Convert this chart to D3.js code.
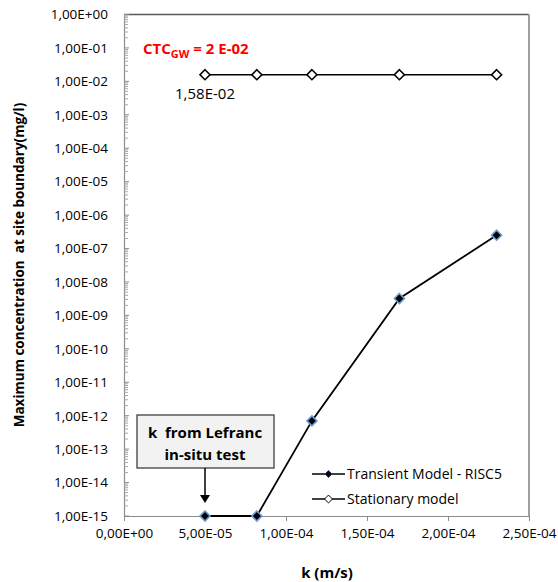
<!DOCTYPE html>
<html lang="en">
<head>
    <meta charset="UTF-8">
    <title>Maximum concentration vs k</title>
    <script src="https://d3js.org/d3.v7.min.js"></script>
    <style>
        body { margin: 0; background: #fff; }
        svg text { font-family: "Open Sans", "Noto Sans", sans-serif; fill: #000; }
    </style>
</head>
<body>
    <div id="chart"></div>

    <script>
        // Values
        const kValues = [5.0e-5, 8.2e-5, 1.16e-4, 1.7e-4, 2.3e-4];
        const transient = [1e-15, 1e-15, 7e-13, 3.2e-9, 2.5e-7];
        const stationary = [1.58e-2, 1.58e-2, 1.58e-2, 1.58e-2, 1.58e-2];
        const seriesNames = ["Transient Model - RISC5", "Stationary model"];
        const xTicks = [0, 5e-5, 1e-4, 1.5e-4, 2e-4, 2.5e-4];
        const yExponents = [0, -1, -2, -3, -4, -5, -6, -7, -8, -9, -10, -11, -12, -13, -14, -15];

        const W = 558, H = 582;
        const plotLeft = 124, plotRight = 529, plotTop = 14.5, plotBottom = 516;

        const svg = d3.select("#chart").append("svg")
            .attr("width", W).attr("height", H);

        const x = d3.scaleLinear().domain([0, 2.5e-4]).range([plotLeft, plotRight]);
        const y = d3.scaleLog().domain([1e-15, 1]).range([plotBottom, plotTop]);

        // number format like "1,00E-04"
        function sci(d) {
            if (d === 0) return "0,00E+00";
            let e = Math.floor(Math.log10(d) + 1e-9);
            let m = d / Math.pow(10, e);
            return m.toFixed(2).replace(".", ",") + "E" + (e >= 0 ? "+" : "-") + String(Math.abs(e)).padStart(2, "0");
        }

        // plot frame: top and right border
        svg.append("line").attr("x1", plotLeft).attr("x2", plotRight).attr("y1", plotTop).attr("y2", plotTop)
            .attr("stroke", "#595959").attr("stroke-width", 1.5);
        svg.append("line").attr("x1", plotRight).attr("x2", plotRight).attr("y1", plotTop).attr("y2", plotBottom)
            .attr("stroke", "#a0a0a0").attr("stroke-width", 2);

        // y axis
        const yTicks = yExponents.map(e => Math.pow(10, e));
        const yAxis = svg.append("g")
            .attr("transform", `translate(${plotLeft},0)`)
            .call(d3.axisLeft(y).tickValues(yTicks).tickSize(0).tickPadding(16).tickFormat(sci));
        yAxis.select(".domain").attr("stroke", "#8c8c8c").attr("stroke-width", 1.2);
        yAxis.selectAll("text").style("font-size", "13.5px").attr("fill", "#000");

        // minor + major ticks on log axis (inside)
        const minor = [];
        yExponents.slice(1).forEach(e => {
            for (let m = 2; m <= 9; m++) minor.push(m * Math.pow(10, e));
        });
        svg.append("g").selectAll("line").data(minor).join("line")
            .attr("x1", plotLeft).attr("x2", plotLeft + 4)
            .attr("y1", d => y(d)).attr("y2", d => y(d))
            .attr("stroke", "#a6a6a6").attr("stroke-width", 1);
        svg.append("g").selectAll("line").data(yTicks).join("line")
            .attr("x1", plotLeft).attr("x2", plotLeft + 5)
            .attr("y1", d => y(d)).attr("y2", d => y(d))
            .attr("stroke", "#8c8c8c").attr("stroke-width", 1);

        // x axis
        const xAxis = svg.append("g")
            .attr("transform", `translate(0,${plotBottom})`)
            .call(d3.axisBottom(x).tickValues(xTicks).tickSize(5).tickSizeOuter(0).tickPadding(7).tickFormat(sci));
        xAxis.select(".domain").attr("stroke", "#8c8c8c").attr("stroke-width", 1.2);
        xAxis.selectAll(".tick line").attr("stroke", "#8c8c8c");
        xAxis.selectAll("text").style("font-size", "13.5px").attr("fill", "#000");

        // axis titles
        svg.append("text")
            .attr("transform", "translate(24,265) rotate(-90)")
            .attr("text-anchor", "middle")
            .style("font-size", "13.5px").style("font-weight", "bold")
            .text("Maximum concentration\u00a0 at site boundary(mg/l)");
        svg.append("text")
            .attr("x", 327).attr("y", 578)
            .attr("text-anchor", "middle")
            .style("font-size", "15px").style("font-weight", "bold")
            .text("k (m/s)");

        const diamond = d3.symbol().type(d3.symbolDiamond2);
        const line = d3.line().x(d => x(d[0])).y(d => y(d[1]));

        // stationary series
        const statData = kValues.map((k, i) => [k, stationary[i]]);
        svg.append("path").datum(statData)
            .attr("fill", "none").attr("stroke", "#000").attr("stroke-width", 1.5)
            .attr("d", line);
        svg.append("g").selectAll("path").data(statData).join("path")
            .attr("transform", d => `translate(${x(d[0])},${y(d[1])})`)
            .attr("d", diamond.size(64)())
            .attr("fill", "#fff").attr("stroke", "#000").attr("stroke-width", 1.6);

        // transient series
        const transData = kValues.map((k, i) => [k, transient[i]]);
        svg.append("path").datum(transData)
            .attr("fill", "none").attr("stroke", "#000").attr("stroke-width", 1.8)
            .attr("d", line);
        svg.append("g").selectAll("path").data(transData).join("path")
            .attr("transform", d => `translate(${x(d[0])},${y(d[1])})`)
            .attr("d", diamond.size(64)())
            .attr("fill", "#000").attr("stroke", "#6b9bd6").attr("stroke-width", 1.6);

        // data label for stationary value
        svg.append("text")
            .attr("x", x(kValues[0])).attr("y", y(stationary[0]) + 24)
            .attr("text-anchor", "middle")
            .style("font-size", "15px")
            .text(sci(stationary[0]));

        // CTC label
        const ctc = svg.append("text")
            .attr("x", 143).attr("y", 54)
            .style("font-size", "15px").style("font-weight", "bold");
        ctc.append("tspan").attr("fill", "#ff0000").text("CTC");
        ctc.append("tspan").attr("fill", "#ff0000").attr("dy", 4).style("font-size", "11px").text("GW");
        ctc.append("tspan").attr("fill", "#ff0000").attr("dy", -4).text(" = 2 E-02");

        // annotation box with arrow
        svg.append("rect")
            .attr("x", 137).attr("y", 415).attr("width", 137).attr("height", 53)
            .attr("fill", "#f2f2f2").attr("stroke", "#3f3f3f").attr("stroke-width", 1.3);
        svg.append("text").attr("x", 205).attr("y", 438)
            .attr("text-anchor", "middle")
            .style("font-size", "15px").style("font-weight", "bold")
            .text("k\u00a0 from Lefranc");
        svg.append("text").attr("x", 205).attr("y", 460)
            .attr("text-anchor", "middle")
            .style("font-size", "15px").style("font-weight", "bold")
            .text("in-situ test");
        svg.append("line")
            .attr("x1", x(kValues[0])).attr("x2", x(kValues[0]))
            .attr("y1", 468).attr("y2", 497)
            .attr("stroke", "#000").attr("stroke-width", 1.5);
        svg.append("path")
            .attr("d", `M${x(kValues[0]) - 5},495 L${x(kValues[0]) + 5},495 L${x(kValues[0])},503 Z`)
            .attr("fill", "#000");

        // legend
        const legend = svg.append("g").attr("transform", "translate(312,474)");
        seriesNames.forEach((name, i) => {
            const g = legend.append("g").attr("transform", `translate(0,${i * 25})`);
            g.append("line").attr("x1", 0).attr("x2", 33).attr("y1", 0).attr("y2", 0)
                .attr("stroke", "#000").attr("stroke-width", 1.5);
            g.append("path").attr("transform", "translate(16.5,0)")
                .attr("d", diamond.size(i === 0 ? 30 : 40)())
                .attr("fill", i === 0 ? "#000" : "#fff")
                .attr("stroke", i === 0 ? "#1f3864" : "#000").attr("stroke-width", 1);
            g.append("text").attr("x", 35).attr("y", 0).attr("dy", "0.35em")
                .style("font-size", "14px")
                .text(name);
        });
    </script>
</body>
</html>
